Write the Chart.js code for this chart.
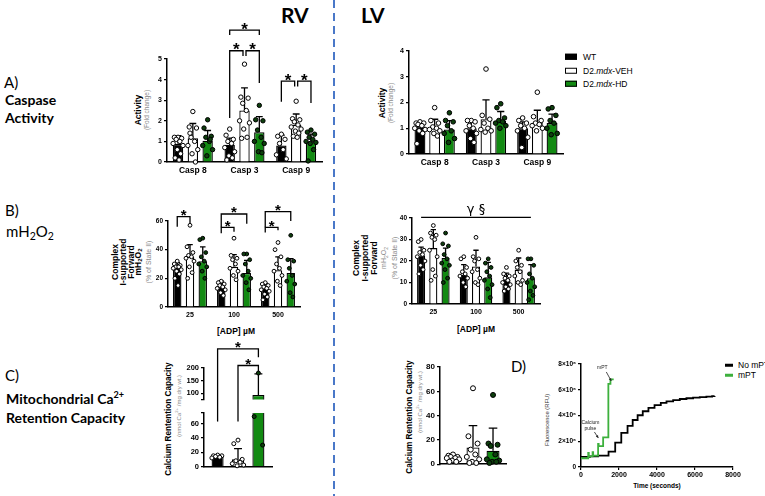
<!DOCTYPE html>
<html lang="en">
<head>
<meta charset="UTF-8">
<title>RV vs LV caspase, mH2O2 and calcium retention</title>
<script src="https://cdn.jsdelivr.net/npm/chart.js"></script>
<style>
  * { margin: 0; padding: 0; box-sizing: border-box; }
  body { width: 765px; height: 496px; background: #fff; position: relative; overflow: hidden; font-family: 'Liberation Sans', Arial, sans-serif; color: #000; }
  canvas { position: absolute; }
  .t { position: absolute; line-height: 1; white-space: nowrap; transform: translateY(-50%); }
  .sec { font-family: Lato, 'Open Sans', sans-serif; font-size: 14px; }
  .secb { font-family: Lato, 'Open Sans', sans-serif; font-size: 14px; font-weight: bold; }
  .head { font-family: Lato, 'Open Sans', sans-serif; font-size: 21px; font-weight: bold; }
  .rot { position: absolute; line-height: 1; white-space: nowrap; transform: translate(-50%, -50%) rotate(-90deg); }
  .b { font-weight: bold; }
  .g { color: #8a8a8a; }
  .s { font-size: 70%; vertical-align: -0.25em; }
  .leg { position: absolute; font-size: 8.5px; line-height: 1; white-space: nowrap; transform: translateY(-50%); display: flex; align-items: center; }
  .sw { display: inline-block; width: 12px; height: 6px; border: 1.5px solid #000; margin-right: 6px; }
  .ln { display: inline-block; width: 8px; height: 2.5px; margin-right: 5px; }
  .dash { position: absolute; left: 333px; top: 0; width: 2px; height: 496px;
          background: repeating-linear-gradient(to bottom, #4a78c8 0 8px, transparent 8px 13px); }
  .ctr { position: absolute; line-height: 1; white-space: nowrap; transform: translate(-50%, -50%); }
</style>
</head>
<body>

<div class="dash"></div>
<div class="t head" style="left:281px;top:14px">RV</div>
<div class="t head" style="left:361px;top:14px">LV</div>

<div class="t sec" style="left:4px;top:82px;font-size:15px">A)</div>
<div class="t secb" style="left:5px;top:100px">Caspase</div>
<div class="t secb" style="left:5px;top:118px">Activity</div>
<div class="t sec" style="left:5px;top:210px;font-size:15px">B)</div>
<div class="t sec" style="left:6px;top:233px;font-size:15px">mH<span class="s">2</span>O<span class="s">2</span></div>
<div class="t sec" style="left:5px;top:375px;font-size:15px">C)</div>
<div class="t secb" style="left:6px;top:398px">Mitochondrial Ca<sup style="font-size:65%">2+</sup></div>
<div class="t secb" style="left:6px;top:418px">Retention Capacity</div>
<div class="t sec" style="left:511px;top:366px;font-size:15px">D)</div>

<!-- axis titles -->
<div class="rot b" style="left:138px;top:110px;font-size:8.5px">Activity</div>
<div class="rot g" style="left:147px;top:110px;font-size:6.5px">(Fold change)</div>
<div class="rot b" style="left:382px;top:103px;font-size:8.5px">Activity</div>
<div class="rot g" style="left:391px;top:103px;font-size:6.5px">(Fold change)</div>

<div class="rot b" style="left:115px;top:262px;font-size:8.5px">Complex</div>
<div class="rot b" style="left:123px;top:262px;font-size:8.5px">I-supported</div>
<div class="rot b" style="left:131px;top:262px;font-size:8.5px">Forward</div>
<div class="rot b" style="left:139px;top:262px;font-size:8.5px">mH<span class="s">2</span>O<span class="s">2</span></div>
<div class="rot g" style="left:148px;top:262px;font-size:7px">(% of State II)</div>

<div class="rot b" style="left:356px;top:258px;font-size:8.5px">Complex</div>
<div class="rot b" style="left:365px;top:258px;font-size:8.5px">I-supported</div>
<div class="rot b" style="left:374px;top:258px;font-size:8.5px">Forward</div>
<div class="rot g" style="left:385px;top:258px;font-size:7px">mH<span class="s">2</span>O<span class="s">2</span></div>
<div class="rot g" style="left:394px;top:258px;font-size:7px">(% of State II)</div>

<div class="ctr b" style="left:236px;top:331px;font-size:8.5px">[ADP] µM</div>
<div class="ctr b" style="left:476px;top:329px;font-size:8.5px">[ADP] µM</div>

<div class="rot b" style="left:169px;top:419px;font-size:8.2px">Calcium Rentention Capacity</div>
<div class="rot g" style="left:178px;top:406px;font-size:6px">(nmol Ca<sup style="font-size:70%">2+</sup> /mg dry wt.)</div>
<div class="rot b" style="left:410px;top:417px;font-size:8.2px">Calcium Rentention Capacity</div>
<div class="rot g" style="left:419px;top:402px;font-size:6px">(nmol Ca<sup style="font-size:70%">2+</sup> /mg dry wt.)</div>

<div class="rot" style="left:548px;top:420px;font-size:5.8px;color:#333">Fluorescence (RFU)</div>
<div class="ctr b" style="left:657px;top:486px;font-size:6.5px">Time (seconds)</div>

<!-- legends -->
<div class="leg" style="left:565px;top:57px"><span class="sw" style="background:#000"></span>WT</div>
<div class="leg" style="left:565px;top:71px"><span class="sw" style="background:#fff"></span>D2.<em>mdx</em>-VEH</div>
<div class="leg" style="left:565px;top:84px"><span class="sw" style="background:#128a12"></span>D2.<em>mdx</em>-HD</div>

<div class="leg" style="left:725px;top:365px;font-size:8.5px"><span class="ln" style="background:#000"></span>No mPT</div>
<div class="leg" style="left:725px;top:375px;font-size:8.5px"><span class="ln" style="background:#3db03d"></span>mPT</div>

<canvas id="cARV" width="178" height="164" style="left:150px;top:14px"></canvas>
<canvas id="cALV" width="178" height="130" style="left:390px;top:40px"></canvas>
<canvas id="cBRV" width="154" height="123" style="left:150px;top:198px"></canvas>
<canvas id="cBLV" width="150" height="120" style="left:394px;top:198px"></canvas>
<canvas id="cCRVtop" width="94" height="76" style="left:182px;top:330px"></canvas>
<canvas id="cCRVbot" width="94" height="67" style="left:182px;top:406px"></canvas>
<canvas id="cCLV" width="94" height="113" style="left:416px;top:358px"></canvas>
<canvas id="cD" width="205" height="140" style="left:545px;top:352px"></canvas>

<script>
// ---- data ----
const caspLabels = ['Casp 8', 'Casp 3', 'Casp 9'];
const adpLabels = ['25', '100', '500'];
const groupNames = ['WT', 'D2.mdx-VEH', 'D2.mdx-HD'];

// A) caspase activity (fold change), RV
const rvCaspWT = [0.88, 0.84, 0.8];
const rvCaspWTsd = [0.4, 0.32, 0.5];
const rvCaspWTpts = [[1.2, 1.2, 1.15, 1.1, 1.0, 0.9, 0.8, 0.6, 0.4, 0.2, 0.1],
                     [1.6, 1.3, 1.1, 1.0, 0.9, 0.7, 0.5, 0.3, 0.2, 0.1],
                     [1.35, 1.25, 1.1, 0.9, 0.6, 0.35, 0.15]];
const rvCaspVEH = [1.15, 2.5, 1.8];
const rvCaspVEHsd = [0.72, 1.1, 0.53];
const rvCaspVEHpts = [[2.45, 1.7, 1.65, 1.2, 1.0, 0.8, 0.6, 0.4, 0.0, 1.4],
                      [4.75, 3.15, 3.1, 2.85, 2.5, 2.0, 1.9, 1.6, 1.2, 1.15],
                      [2.95, 2.1, 2.05, 1.95, 1.8, 1.7, 1.6, 1.5, 1.4, 1.25, 1.2]];
const rvCaspHD = [1.03, 1.45, 1.0];
const rvCaspHDsd = [0.5, 0.75, 0.35];
const rvCaspHDpts = [[2.05, 1.65, 1.25, 1.2, 1.0, 0.8, 0.6, 0.3, 1.1],
                     [2.75, 2.05, 2.0, 1.55, 1.2, 1.0, 0.9, 0.5, 0.45],
                     [1.55, 1.45, 1.35, 1.2, 1.1, 1.0, 0.95, 0.9, 0.6, 0.05]];

// A) caspase activity, LV
const lvCaspWT = [1.07, 1.0, 1.0];
const lvCaspWTsd = [0.18, 0.3, 0.25];
const lvCaspWTpts = [[1.25, 1.2, 1.2, 1.15, 1.1, 1.0, 0.95, 0.9, 0.8, 0.4],
                     [1.3, 1.3, 1.25, 1.1, 1.0, 0.9, 0.8, 0.6, 0.45],
                     [1.4, 1.3, 1.2, 1.1, 1.0, 0.9, 0.65, 0.25]];
const lvCaspVEH = [1.0, 1.35, 1.2];
const lvCaspVEHsd = [0.35, 0.75, 0.5];
const lvCaspVEHpts = [[1.8, 1.3, 1.2, 1.05, 1.0, 0.95, 0.9, 0.8, 0.7],
                      [3.3, 1.5, 1.35, 1.2, 1.0, 0.95, 0.9, 0.85],
                      [2.4, 1.45, 1.3, 1.2, 1.15, 1.1, 1.0, 0.9]];
const lvCaspHD = [0.95, 1.28, 1.2];
const lvCaspHDsd = [0.35, 0.37, 0.35];
const lvCaspHDpts = [[1.6, 1.3, 1.25, 1.1, 0.9, 0.8, 0.6, 0.45],
                     [1.95, 1.8, 1.4, 1.3, 1.25, 1.2, 1.1, 1.0],
                     [1.8, 1.75, 1.5, 1.3, 1.2, 1.0, 0.8, 0.75]];

// B) complex I-supported forward mH2O2 (% of State II), RV
const rvH2o2WT = [28.4, 14.4, 12.8];
const rvH2o2WTsd = [2.6, 3.6, 3.7];
const rvH2o2WTpts = [[32, 30, 29, 28, 28, 27, 26, 25, 23, 20, 15],
                     [18, 17, 16, 15, 14, 13, 12, 10, 8],
                     [17, 16, 15, 14, 13, 12, 11, 9, 7, 5]];
const rvH2o2VEH = [35, 28, 25.6];
const rvH2o2VEHsd = [8.5, 8.5, 9.4];
const rvH2o2VEHpts = [[57, 42, 38, 36, 35, 34, 32, 28, 24, 20],
                      [48, 36, 34, 33, 30, 27, 25, 22, 19],
                      [45, 40, 35, 30, 27, 25, 22, 18, 15]];
const rvH2o2HD = [32, 23.7, 23.7];
const rvH2o2HDsd = [10, 8.8, 10];
const rvH2o2HDpts = [[48, 47, 38, 35, 32, 30, 28, 25, 20],
                     [37, 37, 33, 30, 25, 22, 20, 17, 12],
                     [50, 33, 32, 27, 22, 18, 16, 10, 7]];

// B) LV
const lvH2o2WT = [22.6, 13.6, 11.3];
const lvH2o2WTsd = [3.9, 4.7, 3.1];
const lvH2o2WTpts = [[30, 29, 25, 24, 23, 22, 20, 18, 16, 14],
                     [22, 21, 17, 15, 14, 13, 12, 10, 8],
                     [17, 14, 13, 12, 11, 10, 9, 8, 7, 6]];
const lvH2o2VEH = [26, 17.5, 16];
const lvH2o2VEHsd = [8.6, 7.5, 5.4];
const lvH2o2VEHpts = [[36.5, 33, 32, 31, 30, 25, 22, 16, 13, 11],
                      [31, 22, 21, 20, 16, 15, 12, 10, 9],
                      [25, 20, 18, 17, 15, 13, 11, 10, 9]];
const lvH2o2HD = [21.4, 12.4, 12];
const lvH2o2HDsd = [4.6, 7, 6.3];
const lvH2o2HDpts = [[33, 28, 27, 23, 21, 19, 18, 16, 12, 10],
                     [21, 19, 17, 15, 13, 11, 9, 7, 3],
                     [21, 21, 18, 14, 12, 10, 8, 6, 4, 2]];

// C) calcium retention capacity (nmol Ca2+/mg dry wt.), WT / VEH / HD
const crRvMean = [14, 10, 93];
const crRvSd = [2, 15, 84];
const crRvPts = [[16, 15, 15, 14, 13, 12], [37, 32, 10, 8, 6, 4, 2, 1], [180, 70, 30]];
const crLvMean = [5.8, 13.8, 11.1];
const crLvSd = [1.5, 18, 18.6];
const crLvPts = [[8, 7, 6, 6, 5, 5, 4, 3, 2, 2], [62.5, 23, 17, 12, 8, 6, 4, 2, 1, 1], [57, 17, 16, 15, 8, 4, 3, 2, 2, 1]];

// D) calcium pulses, fluorescence (RFU) over time (s)
const noMptTime = [0, 470, 900, 1450, 1800, 2120, 2450, 2720, 2980, 3250, 3550, 3870, 4200, 4500, 4850, 5200, 5550, 5900, 6250, 6600, 6900, 7030];
const noMptRFU = [0.78e6, 0.82e6, 0.88e6, 1.2e6, 1.9e6, 2.65e6, 3.2e6, 3.65e6, 4.02e6, 4.33e6, 4.6e6, 4.8e6, 4.98e6, 5.1e6, 5.2e6, 5.28e6, 5.34e6, 5.39e6, 5.42e6, 5.46e6, 5.5e6, 5.52e6];
const mptTime = [0, 380, 410, 610, 640, 900, 930, 1165, 1440, 1550, 1720];
const mptRFU = [0.68e6, 1.1e6, 0.82e6, 1.15e6, 0.88e6, 1.8e6, 1.62e6, 2.3e6, 6.45e6, 6.8e6, 6.8e6];

// ---- drawing ----
Chart.defaults.font.family = "'Liberation Sans', Arial, sans-serif";
Chart.defaults.color = '#000';

const fills = ['#000', '#fff', '#128a12'];
const dotFills = ['#fff', '#fff', '#0d3f0d'];
const jitter = [0, -0.7, 0.7, -0.35, 0.35, -0.95, 0.95, -0.15, 0.5, -0.55, 0.2, 0.8];
const extrasCfg = {};

// error bars, dots, significance brackets, notes
const extras = {
  id: 'extras',
  afterDatasetsDraw(chart) {
    const c = extrasCfg[chart.canvas.id];
    if (!c) return;
    const ctx = chart.ctx, ys = chart.scales.y;
    const barAt = (cat, ds) => chart.getDatasetMeta(ds).data[cat];
    const clampV = v => Math.min(Math.max(v, ys.min), ys.max);
    ctx.save();
    ctx.strokeStyle = '#000';
    ctx.lineWidth = 1.3;
    (c.groups || []).forEach((g, ds) => {
      g.mean.forEach((m, cat) => {
        const bar = barAt(cat, ds);
        const a = clampV(m), b = clampV(m + g.sd[cat]);
        if (b <= a) return;
        const y0 = ys.getPixelForValue(a), y1 = ys.getPixelForValue(b), half = bar.width * 0.33;
        ctx.beginPath();
        ctx.moveTo(bar.x, y0); ctx.lineTo(bar.x, y1);
        ctx.moveTo(bar.x - half, y1); ctx.lineTo(bar.x + half, y1);
        ctx.stroke();
      });
    });
    ctx.lineWidth = 1;
    (c.groups || []).forEach((g, ds) => {
      g.pts.forEach((list, cat) => {
        const bar = barAt(cat, ds);
        list.forEach((v, k) => {
          if (v < ys.min || v > ys.max) return;
          const x = bar.x + jitter[k % jitter.length] * bar.width * 0.5;
          ctx.beginPath();
          ctx.arc(x, ys.getPixelForValue(v), c.r || 2.2, 0, Math.PI * 2);
          ctx.fillStyle = dotFills[ds];
          ctx.fill();
          ctx.stroke();
        });
      });
    });
    ctx.lineWidth = 1.3;
    const starSize = c.star || 16;
    (c.brackets || []).forEach(b => {
      const xa = barAt(b.from[0], b.from[1]).x + (b.dxL || 0);
      const xb = barAt(b.to[0], b.to[1]).x + (b.dxR || 0);
      const yb = ys.getPixelForValue(b.y);
      const legY = v => v === 'out' ? chart.height : ys.getPixelForValue(v);
      ctx.beginPath();
      if (b.legL != null) { ctx.moveTo(xa, legY(b.legL)); ctx.lineTo(xa, yb); } else ctx.moveTo(xa, yb);
      ctx.lineTo(xb, yb);
      if (b.legR != null) ctx.lineTo(xb, legY(b.legR));
      ctx.stroke();
      ctx.fillStyle = '#000';
      ctx.textAlign = 'center';
      if (b.label) {
        ctx.font = b.font;
        ctx.textBaseline = 'bottom';
        ctx.fillText(b.label, (xa + xb) / 2, yb - 1);
      } else {
        ctx.font = 'bold ' + starSize + "px 'Liberation Sans', Arial, sans-serif";
        ctx.textBaseline = 'alphabetic';
        ctx.fillText('*', (xa + xb) / 2, yb - 5 + 0.56 * starSize);
      }
    });
    (c.drops || []).forEach(d => {
      const x = barAt(d.at[0], d.at[1]).x;
      ctx.beginPath();
      ctx.moveTo(x, 0);
      ctx.lineTo(x, ys.getPixelForValue(d.to));
      ctx.stroke();
    });
    (c.notes || []).forEach(n => {
      const xs = chart.scales.x;
      ctx.fillStyle = '#222';
      ctx.font = "5px 'Liberation Sans', Arial, sans-serif";
      ctx.textAlign = 'center';
      ctx.textBaseline = 'middle';
      n.lines.forEach((s, i) => ctx.fillText(s, xs.getPixelForValue(n.x), ys.getPixelForValue(n.y) + i * 5.5));
      const x0 = xs.getPixelForValue(n.arrow[0]), y0 = ys.getPixelForValue(n.arrow[1]);
      const x1 = xs.getPixelForValue(n.arrow[2]), y1 = ys.getPixelForValue(n.arrow[3]);
      const ang = Math.atan2(y1 - y0, x1 - x0);
      ctx.strokeStyle = '#222';
      ctx.lineWidth = 0.8;
      ctx.beginPath(); ctx.moveTo(x0, y0); ctx.lineTo(x1, y1); ctx.stroke();
      ctx.beginPath();
      ctx.moveTo(x1, y1);
      ctx.lineTo(x1 - 3 * Math.cos(ang - 0.45), y1 - 3 * Math.sin(ang - 0.45));
      ctx.lineTo(x1 - 3 * Math.cos(ang + 0.45), y1 - 3 * Math.sin(ang + 0.45));
      ctx.closePath();
      ctx.fillStyle = '#222';
      ctx.fill();
    });
    ctx.restore();
  }
};

function axisY(min, max, step, yw, size) {
  return {
    min, max,
    ticks: { stepSize: step, font: { size, weight: 'bold' }, padding: 2 },
    grid: { drawOnChartArea: false, tickLength: 3, color: '#000', lineWidth: 1.2 },
    border: { color: '#000', width: 1.5 },
    afterFit: s => { s.width = yw; }
  };
}

function axisX(xh, size, show) {
  return {
    ticks: { display: show, font: { size, weight: 'bold' }, padding: 4 },
    grid: { display: false, drawTicks: false },
    border: { color: '#000', width: 1.5 },
    afterFit: s => { s.height = xh; }
  };
}

function group(mean, sd, pts) { return { mean, sd, pts }; }

function barChart(id, labels, groups, o) {
  extrasCfg[id] = Object.assign({ groups }, o.extras || {});
  return new Chart(document.getElementById(id), {
    type: 'bar',
    data: {
      labels,
      datasets: groups.map((g, i) => ({
        label: groupNames[i], data: g.mean, backgroundColor: fills[i],
        borderColor: '#000', borderWidth: 1.3, clip: 0,
        categoryPercentage: o.cp, barPercentage: o.bp
      }))
    },
    options: {
      responsive: false, animation: false, events: [],
      layout: { padding: { top: o.padTop, right: o.padRight, left: 0, bottom: 0 } },
      plugins: { legend: { display: false }, tooltip: { enabled: false } },
      scales: { x: o.x, y: o.y }
    },
    plugins: [extras]
  });
}

// A) RV
barChart('cARV', caspLabels, [
  group(rvCaspWT, rvCaspWTsd, rvCaspWTpts),
  group(rvCaspVEH, rvCaspVEHsd, rvCaspVEHpts),
  group(rvCaspHD, rvCaspHDsd, rvCaspHDpts)
], {
  cp: 0.86, bp: 0.7, padTop: 45, padRight: 6,
  x: axisX(16, 8.5, true), y: axisY(0, 5, 1, 17, 7),
  extras: { r: 2.2, star: 17, brackets: [
    { from: [1, 0], to: [1, 2], y: 6.4, legL: 6.17, legR: 6.17 },
    { from: [1, 0], to: [1, 1], y: 5.4, legL: 2.13, legR: 5.15, dxR: -1.5 },
    { from: [1, 1], to: [1, 2], y: 5.4, legL: 5.15, legR: 3.83, dxL: 1.5 },
    { from: [2, 0], to: [2, 1], y: 3.93, legL: 2.93, legR: 3.66, dxR: -1.5 },
    { from: [2, 1], to: [2, 2], y: 3.93, legL: 3.66, legR: 2.86, dxL: 1.5 }
  ] }
});

// A) LV
barChart('cALV', caspLabels, [
  group(lvCaspWT, lvCaspWTsd, lvCaspWTpts),
  group(lvCaspVEH, lvCaspVEHsd, lvCaspVEHpts),
  group(lvCaspHD, lvCaspHDsd, lvCaspHDpts)
], {
  cp: 0.86, bp: 0.74, padTop: 11, padRight: 5,
  x: axisX(16, 8.5, true), y: axisY(0, 4, 1, 19, 7),
  extras: { r: 2.3 }
});

// B) RV
barChart('cBRV', adpLabels, [
  group(rvH2o2WT, rvH2o2WTsd, rvH2o2WTpts),
  group(rvH2o2VEH, rvH2o2VEHsd, rvH2o2VEHpts),
  group(rvH2o2HD, rvH2o2HDsd, rvH2o2HDpts)
], {
  cp: 0.87, bp: 0.66, padTop: 23, padRight: 4,
  x: axisX(14, 7, true), y: axisY(0, 60, 20, 18, 6.5),
  extras: { r: 1.9, star: 15, brackets: [
    { from: [0, 0], to: [0, 1], y: 63, legL: 56, legR: 58.6 },
    { from: [1, 0], to: [1, 2], y: 64.9, legL: 55.6, legR: 58 },
    { from: [1, 0], to: [1, 1], y: 55.6, legL: 51.4, legR: 52.5 },
    { from: [2, 0], to: [2, 2], y: 66.5, legL: 55.6, legR: 60 },
    { from: [2, 0], to: [2, 1], y: 55.6, legL: 51.9, legR: 53.6 }
  ] }
});

// B) LV
barChart('cBLV', adpLabels, [
  group(lvH2o2WT, lvH2o2WTsd, lvH2o2WTpts),
  group(lvH2o2VEH, lvH2o2VEHsd, lvH2o2VEHpts),
  group(lvH2o2HD, lvH2o2HDsd, lvH2o2HDpts)
], {
  cp: 0.86, bp: 0.66, padTop: 20, padRight: 4,
  x: axisX(14, 7, true), y: axisY(0, 40, 10, 18, 6.5),
  extras: { r: 1.9, brackets: [
    { from: [0, 0], to: [2, 2], y: 40.3, label: 'γ §', font: "13px 'DejaVu Sans', sans-serif" }
  ] }
});

// C) RV, broken axis: upper segment 75-200, lower 0-75
const crRvGroups = [0, 1, 2].map(i => group([crRvMean[i]], [crRvSd[i]], [crRvPts[i]]));
const upperY = axisY(75, 200, 50, 22, 7.5);
upperY.afterBuildTicks = s => { s.ticks = [75, 100, 150, 200].map(v => ({ value: v })); };
upperY.ticks.callback = v => (v === 75 ? '' : v);
barChart('cCRVtop', [''], crRvGroups, {
  cp: 0.9, bp: 0.59, padTop: 38, padRight: 4,
  x: { display: false }, y: upperY,
  extras: { r: 2, star: 15, brackets: [
    { from: [0, 0], to: [0, 2], y: 276, legL: 'out', legR: 243 },
    { from: [0, 1], to: [0, 2], y: 210, legL: 'out', legR: 187 }
  ] }
});
const lowerY = axisY(0, 75, 20, 22, 7.5);
lowerY.afterBuildTicks = s => { s.ticks = [0, 20, 40, 60, 75].map(v => ({ value: v })); };
lowerY.ticks.callback = v => (v === 75 ? '' : v);
barChart('cCRVbot', [''], crRvGroups, {
  cp: 0.9, bp: 0.59, padTop: 7, padRight: 4,
  x: axisX(4, 7, false), y: lowerY,
  extras: { r: 2, drops: [{ at: [0, 0], to: 63 }, { at: [0, 1], to: 63 }] }
});

// C) LV
barChart('cCLV', [''], [0, 1, 2].map(i => group([crLvMean[i]], [crLvSd[i]], [crLvPts[i]])), {
  cp: 0.91, bp: 0.65, padTop: 9, padRight: 4,
  x: axisX(4, 7, false), y: axisY(0, 80, 20, 24, 8),
  extras: { r: 2.5 }
});

// D) calcium retention traces
extrasCfg.cD = { notes: [
  { lines: ['mPT'], x: 1123, y: 7.69e6, arrow: [1332, 7.38e6, 1593, 6.68e6] },
  { lines: ['Calcium', 'pulse'], x: 496, y: 3.42e6, arrow: [705, 2.72e6, 914, 2.25e6] }
] };
new Chart(document.getElementById('cD'), {
  type: 'scatter',
  data: {
    datasets: [
      { label: 'mPT', data: mptTime.map((t, i) => ({ x: t, y: mptRFU[i] })), showLine: true, stepped: true,
        borderColor: '#3db03d', borderWidth: 1.8, pointRadius: 0 },
      { label: 'No mPT', data: noMptTime.map((t, i) => ({ x: t, y: noMptRFU[i] })), showLine: true, stepped: true,
        borderColor: '#000', borderWidth: 1.8, pointRadius: 0 }
    ]
  },
  options: {
    responsive: false, animation: false, events: [],
    layout: { padding: { top: 12, right: 17, left: 0, bottom: 0 } },
    plugins: { legend: { display: false }, tooltip: { enabled: false } },
    scales: {
      x: {
        type: 'linear', min: 0, max: 8000,
        ticks: { stepSize: 2000, font: { size: 7, weight: 'bold' }, padding: 1, callback: v => String(v) },
        grid: { drawOnChartArea: false, tickLength: 3, color: '#000', lineWidth: 1.2 },
        border: { color: '#000', width: 1.5 },
        afterFit: s => { s.height = 25; }
      },
      y: {
        min: 0, max: 8e6,
        ticks: { stepSize: 2e6, font: { size: 6.5, weight: 'bold' }, padding: 2,
                 callback: v => (v === 0 ? '0' : (v / 1e6) + '×10⁶') },
        grid: { drawOnChartArea: false, tickLength: 3, color: '#000', lineWidth: 1.2 },
        border: { color: '#000', width: 1.5 },
        afterFit: s => { s.width = 36; }
      }
    }
  },
  plugins: [extras]
});
</script>
</body>
</html>
